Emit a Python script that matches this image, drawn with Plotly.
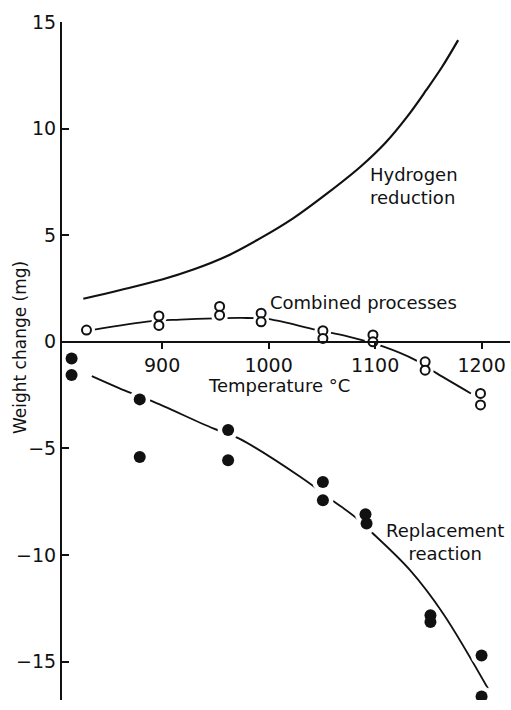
import plotly.graph_objects as go

# ---------------- data ----------------
x_ticks = [900, 1000, 1100, 1200]
y_ticks = [-15, -10, -5, 0, 5, 10, 15]

# Hydrogen reduction (fitted curve only)
h2_T = [826, 860, 900, 930, 960, 992, 1023, 1055, 1086, 1110, 1130, 1148, 1163, 1178]
h2_w = [2.02, 2.42, 2.92, 3.4, 4.0, 4.85, 5.79, 6.96, 8.2, 9.35, 10.55, 11.8, 12.9, 14.15]

# Combined processes: measured points (open circles) and fitted curve
comb_T = [829, 897, 897, 954, 954, 993, 993, 1051, 1051, 1098, 1098, 1147, 1147, 1199, 1199]
comb_w = [0.55, 1.21, 0.77, 1.66, 1.25, 1.34, 0.94, 0.52, 0.16, 0.32, 0.0, -0.94, -1.33, -2.42, -2.96]
comb_fit_T = [835, 890, 917, 950, 975, 1000, 1045, 1075, 1108, 1138, 1158, 1190]
comb_fit_w = [0.56, 0.97, 1.04, 1.1, 1.12, 1.06, 0.56, 0.24, -0.23, -0.86, -1.48, -2.42]

# Replacement reaction: measured points (filled circles) and fitted curve
repl_T = [815, 815, 879, 879, 962, 962, 1051, 1051, 1091, 1092, 1152, 1152, 1200, 1200]
repl_w = [-0.78, -1.56, -2.70, -5.40, -4.14, -5.55, -6.57, -7.43, -8.09, -8.52, -12.83, -13.14, -14.71, -16.63]
repl_fit_T = [834, 868, 890, 948, 972, 1030, 1062, 1081, 1098, 1133, 1164, 1206]
repl_fit_w = [-1.61, -2.35, -2.77, -4.06, -4.53, -6.34, -7.51, -8.21, -8.99, -10.72, -12.75, -16.26]

x_range = [806, 1226.7]
y_range = [-16.8, 15]

FONT = "DejaVu Sans"
BLACK = "#111111"

fig = go.Figure()

# fitted curves
fig.add_trace(go.Scatter(x=h2_T, y=h2_w, mode="lines", line=dict(color=BLACK, width=2.2, shape="spline"),
                         name="Hydrogen reduction", showlegend=False))
fig.add_trace(go.Scatter(x=comb_fit_T, y=comb_fit_w, mode="lines", line=dict(color=BLACK, width=1.8, shape="spline"),
                         name="Combined processes fit", showlegend=False))
fig.add_trace(go.Scatter(x=repl_fit_T, y=repl_fit_w, mode="lines", line=dict(color=BLACK, width=1.8, shape="spline"),
                         name="Replacement reaction fit", showlegend=False))

# white halos give the broken-line look around the measured points
fig.add_trace(go.Scatter(x=comb_T, y=comb_w, mode="markers", marker=dict(color="white", size=17, line=dict(width=0)),
                         hoverinfo="skip", showlegend=False))
fig.add_trace(go.Scatter(x=repl_T, y=repl_w, mode="markers", marker=dict(color="white", size=21, line=dict(width=0)),
                         hoverinfo="skip", showlegend=False))

# measured points
fig.add_trace(go.Scatter(x=comb_T, y=comb_w, mode="markers",
                         marker=dict(symbol="circle", color="white", size=9, line=dict(color=BLACK, width=2)),
                         name="Combined processes", showlegend=False))
fig.add_trace(go.Scatter(x=repl_T, y=repl_w, mode="markers",
                         marker=dict(symbol="circle", color=BLACK, size=12, line=dict(width=0)),
                         name="Replacement reaction", showlegend=False))

x_pos = (0 - y_range[0]) / (y_range[1] - y_range[0])

fig.update_layout(
    width=511, height=710,
    margin=dict(l=62, r=1, t=22, b=10, autoexpand=False),
    paper_bgcolor="white", plot_bgcolor="white",
    font=dict(family=FONT, size=18, color=BLACK),
    xaxis=dict(range=x_range, tickvals=x_ticks, ticktext=[str(v) for v in x_ticks],
               anchor="free", position=x_pos, showline=True, linecolor=BLACK, linewidth=2,
               ticks="outside", ticklen=6, tickwidth=1.5, tickcolor=BLACK, automargin=False,
               showgrid=False, zeroline=False, tickfont=dict(family=FONT, size=19, color=BLACK)),
    xaxis2=dict(range=x_range, tickvals=x_ticks, overlaying="x", anchor="free", position=x_pos,
                showline=False, ticks="inside", ticklen=6, tickwidth=1.5, tickcolor=BLACK, automargin=False,
                showticklabels=False, showgrid=False, zeroline=False),
    yaxis=dict(range=y_range, tickvals=y_ticks, showline=True, linecolor=BLACK, linewidth=2,
               ticks="inside", ticklen=7, tickwidth=1.5, tickcolor=BLACK, automargin=False,
               showgrid=False, zeroline=False, tickfont=dict(family=FONT, size=19, color=BLACK)),
    showlegend=False,
)

ann = dict(showarrow=False, font=dict(family=FONT, size=18, color=BLACK))
fig.add_annotation(x=1093.4, y=7.3, xref="x", yref="y", text="Hydrogen<br>reduction",
                   xanchor="left", yanchor="middle", align="left", **ann)
fig.add_annotation(x=1088.7, y=1.85, xref="x", yref="y", text="Combined processes",
                   xanchor="center", yanchor="middle", **ann)
fig.add_annotation(x=1009.9, y=-2.05, xref="x", yref="y", text="Temperature °C",
                   xanchor="center", yanchor="middle", **ann)
fig.add_annotation(x=1165.2, y=-9.4, xref="x", yref="y", text="Replacement<br>reaction",
                   xanchor="center", yanchor="middle", align="center", **ann)
fig.add_annotation(x=-0.094, y=-0.25, xref="paper", yref="y", text="Weight change (mg)",
                   textangle=-90, xanchor="center", yanchor="middle",
                   showarrow=False, font=dict(family=FONT, size=17, color=BLACK))

# remove the browser's default 8px page margin so the 511x710 figure fills the window exactly
fig.write_html("out.html", config={"displayModeBar": False},
               post_script="document.body.style.margin='0';document.body.style.overflow='hidden';")
